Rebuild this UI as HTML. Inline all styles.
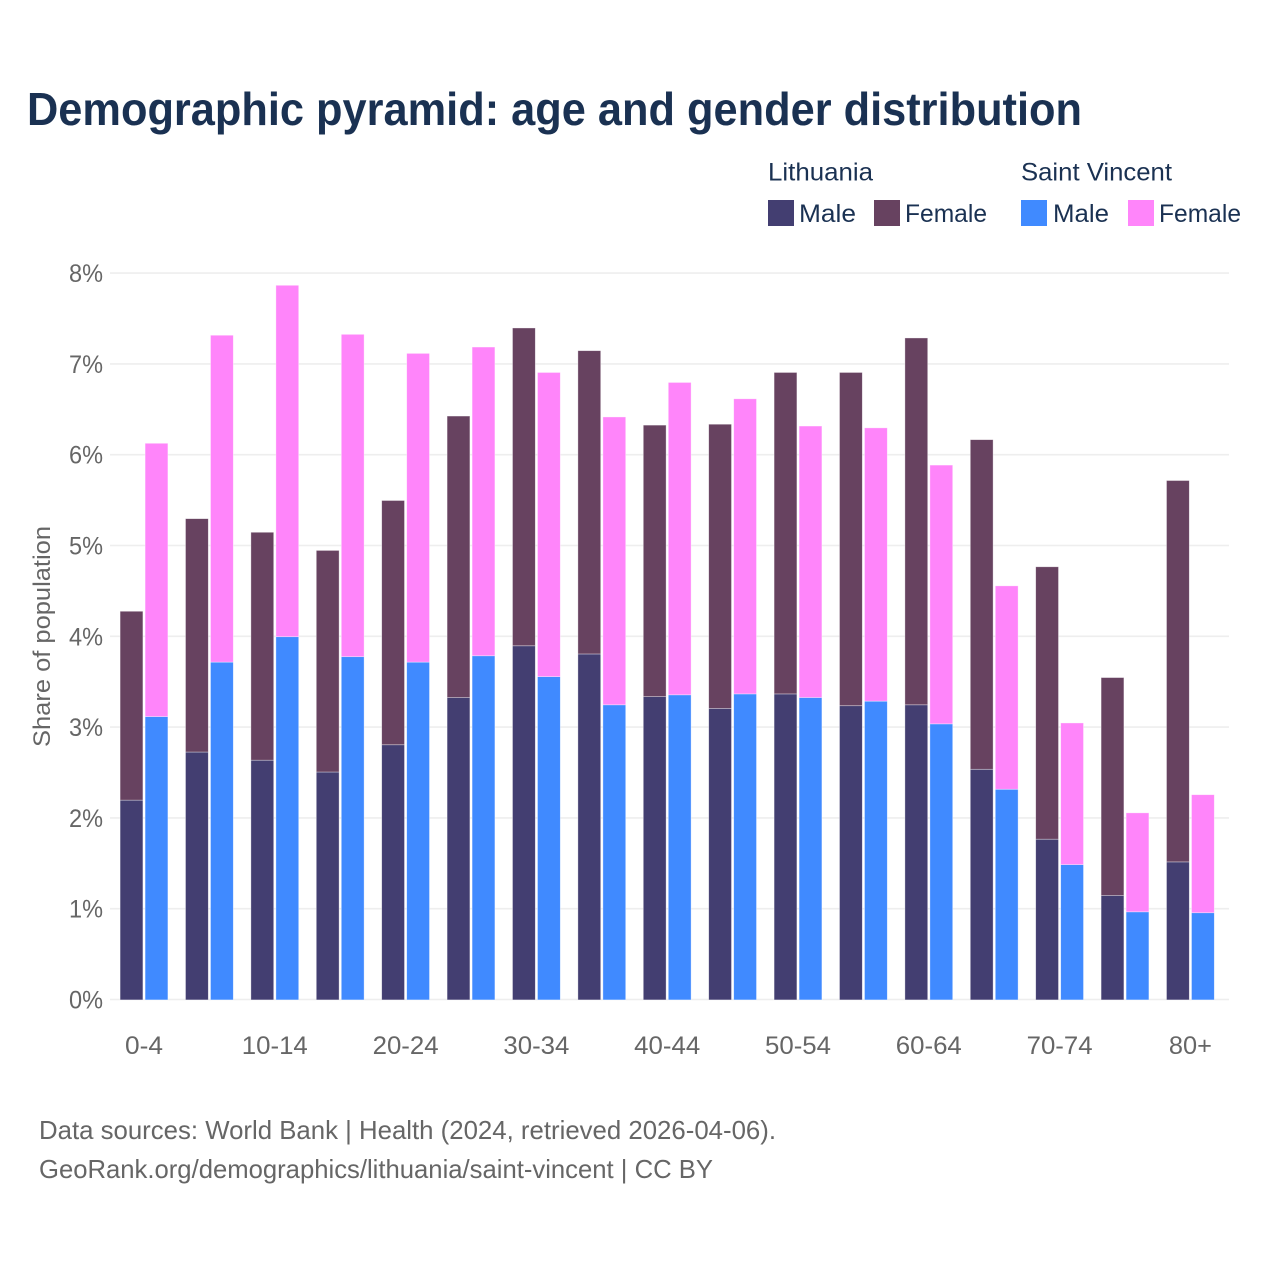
<!DOCTYPE html>
<html lang="en">
<head>
<meta charset="utf-8">
<title>Demographic pyramid</title>
<style>
html,body{margin:0;padding:0;background:#fff;}
svg{display:block;font-family:"Liberation Sans",sans-serif;}
</style>
</head>
<body>
<svg id="chart" width="1280" height="1280" viewBox="0 0 1280 1280" xmlns="http://www.w3.org/2000/svg">
<rect x="0" y="0" width="1280" height="1280" fill="#ffffff"/>
<text x="27" y="125" font-size="46" font-weight="700" fill="#1a3152" textLength="1055" lengthAdjust="spacingAndGlyphs">Demographic pyramid: age and gender distribution</text>

<g font-size="25" fill="#1a3152">
<text x="768" y="180.5" textLength="105" lengthAdjust="spacingAndGlyphs">Lithuania</text>
<text x="1021" y="180.5" textLength="151" lengthAdjust="spacingAndGlyphs">Saint Vincent</text>
<rect x="768" y="200" width="26" height="26" fill="#433e71"/>
<text x="799" y="222" textLength="57" lengthAdjust="spacingAndGlyphs">Male</text>
<rect x="874" y="200" width="26" height="26" fill="#674260"/>
<text x="905" y="222" textLength="82" lengthAdjust="spacingAndGlyphs">Female</text>
<rect x="1021" y="200" width="26" height="26" fill="#408aff"/>
<text x="1053" y="222" textLength="56" lengthAdjust="spacingAndGlyphs">Male</text>
<rect x="1128" y="200" width="26" height="26" fill="#ff85fa"/>
<text x="1159" y="222" textLength="82" lengthAdjust="spacingAndGlyphs">Female</text>
</g>

<g id="grid"></g>
<g id="bars"></g>
<g id="yticks"></g>
<g id="xticks"></g>

<text transform="translate(50,636.5) rotate(-90)" text-anchor="middle" font-size="24" fill="#666666" textLength="221" lengthAdjust="spacingAndGlyphs">Share of population</text>

<text x="39" y="1139" font-size="26" fill="#666666" textLength="737" lengthAdjust="spacingAndGlyphs">Data sources: World Bank | Health (2024, retrieved 2026-04-06).</text>
<text x="39" y="1178" font-size="26" fill="#666666" textLength="674" lengthAdjust="spacingAndGlyphs">GeoRank.org/demographics/lithuania/saint-vincent | CC BY</text>
</svg>
<script>
const categories = ["0-4","5-9","10-14","15-19","20-24","25-29","30-34","35-39","40-44","45-49","50-54","55-59","60-64","65-69","70-74","75-79","80+"];
const lithuaniaMale = [2.20,2.73,2.64,2.51,2.81,3.33,3.90,3.81,3.34,3.21,3.37,3.24,3.25,2.54,1.77,1.15,1.52];
const lithuaniaFemale = [2.08,2.57,2.51,2.44,2.69,3.10,3.50,3.34,2.99,3.13,3.54,3.67,4.04,3.63,3.00,2.40,4.20];
const saintVincentMale = [3.12,3.72,4.00,3.78,3.72,3.79,3.56,3.25,3.36,3.37,3.33,3.29,3.04,2.32,1.49,0.97,0.96];
const saintVincentFemale = [3.01,3.60,3.87,3.55,3.40,3.40,3.35,3.17,3.44,3.25,2.99,3.01,2.85,2.24,1.56,1.09,1.30];
const yTickValues = [0,1,2,3,4,5,6,7,8];

const SVG_NS = "http://www.w3.org/2000/svg";
const plotLeft = 110, plotRight = 1229;
const yZero = 999.5, pxPerUnit = 90.8;
const firstCenter = 144, groupStep = 65.4;
const barWidth = 22.8, barOffset = 23.9;
const barTopInset = 0.4;

function yScale(v) { return yZero - v * pxPerUnit; }
function xScale(i) { return firstCenter + i * groupStep; }

function addBar(parent, x, v0, v1, fill, name) {
  const r = document.createElementNS(SVG_NS, "rect");
  r.setAttribute("x", x);
  r.setAttribute("y", yScale(v1) + barTopInset);
  r.setAttribute("width", barWidth);
  r.setAttribute("height", yScale(v0) - yScale(v1));
  r.setAttribute("fill", fill);
  r.setAttribute("stroke", "#ffffff");
  r.setAttribute("stroke-opacity", "0.5");
  r.setAttribute("stroke-width", "0.7");
  
  
  parent.appendChild(r);
}

const gridGroup = document.getElementById("grid");
const yTickGroup = document.getElementById("yticks");
yTickValues.forEach(function (t) {
  const line = document.createElementNS(SVG_NS, "line");
  line.setAttribute("x1", plotLeft);
  line.setAttribute("x2", plotRight);
  line.setAttribute("y1", yScale(t));
  line.setAttribute("y2", yScale(t));
  line.setAttribute("stroke", "#eeeeee");
  line.setAttribute("stroke-width", "1.6");
  
  
  gridGroup.appendChild(line);

  const label = document.createElementNS(SVG_NS, "text");
  label.setAttribute("x", 103);
  label.setAttribute("y", yScale(t) + 9);
  label.setAttribute("text-anchor", "end");
  label.setAttribute("font-size", "25");
  label.setAttribute("fill", "#666666");
  label.setAttribute("textLength", "34");
  label.setAttribute("lengthAdjust", "spacingAndGlyphs");
  
  
  label.textContent = t + "%";
  yTickGroup.appendChild(label);
});

const barGroup = document.getElementById("bars");
const xTickGroup = document.getElementById("xticks");
categories.forEach(function (cat, i) {
  const c = xScale(i);
  const lm = lithuaniaMale[i], lf = lithuaniaFemale[i];
  const sm = saintVincentMale[i], sf = saintVincentFemale[i];
  addBar(barGroup, c - barOffset, 0, lm, "#433e71", "bar-lithuania-male-" + cat);
  addBar(barGroup, c - barOffset, lm, lm + lf, "#674260", "bar-lithuania-female-" + cat);
  addBar(barGroup, c + 1.1, 0, sm, "#408aff", "bar-saint-vincent-male-" + cat);
  addBar(barGroup, c + 1.1, sm, sm + sf, "#ff85fa", "bar-saint-vincent-female-" + cat);

  if (i % 2 === 0) {
    const label = document.createElementNS(SVG_NS, "text");
    label.setAttribute("x", c);
    label.setAttribute("y", 1054);
    label.setAttribute("text-anchor", "middle");
    label.setAttribute("font-size", "25");
    label.setAttribute("fill", "#666666");
    label.setAttribute("textLength", cat.length === 3 && cat !== "0-4" ? "43" : (cat.length === 3 ? "38" : "66"));
    label.setAttribute("lengthAdjust", "spacingAndGlyphs");
    
    
    label.textContent = cat;
    xTickGroup.appendChild(label);
  }
});
</script>
</body>
</html>
